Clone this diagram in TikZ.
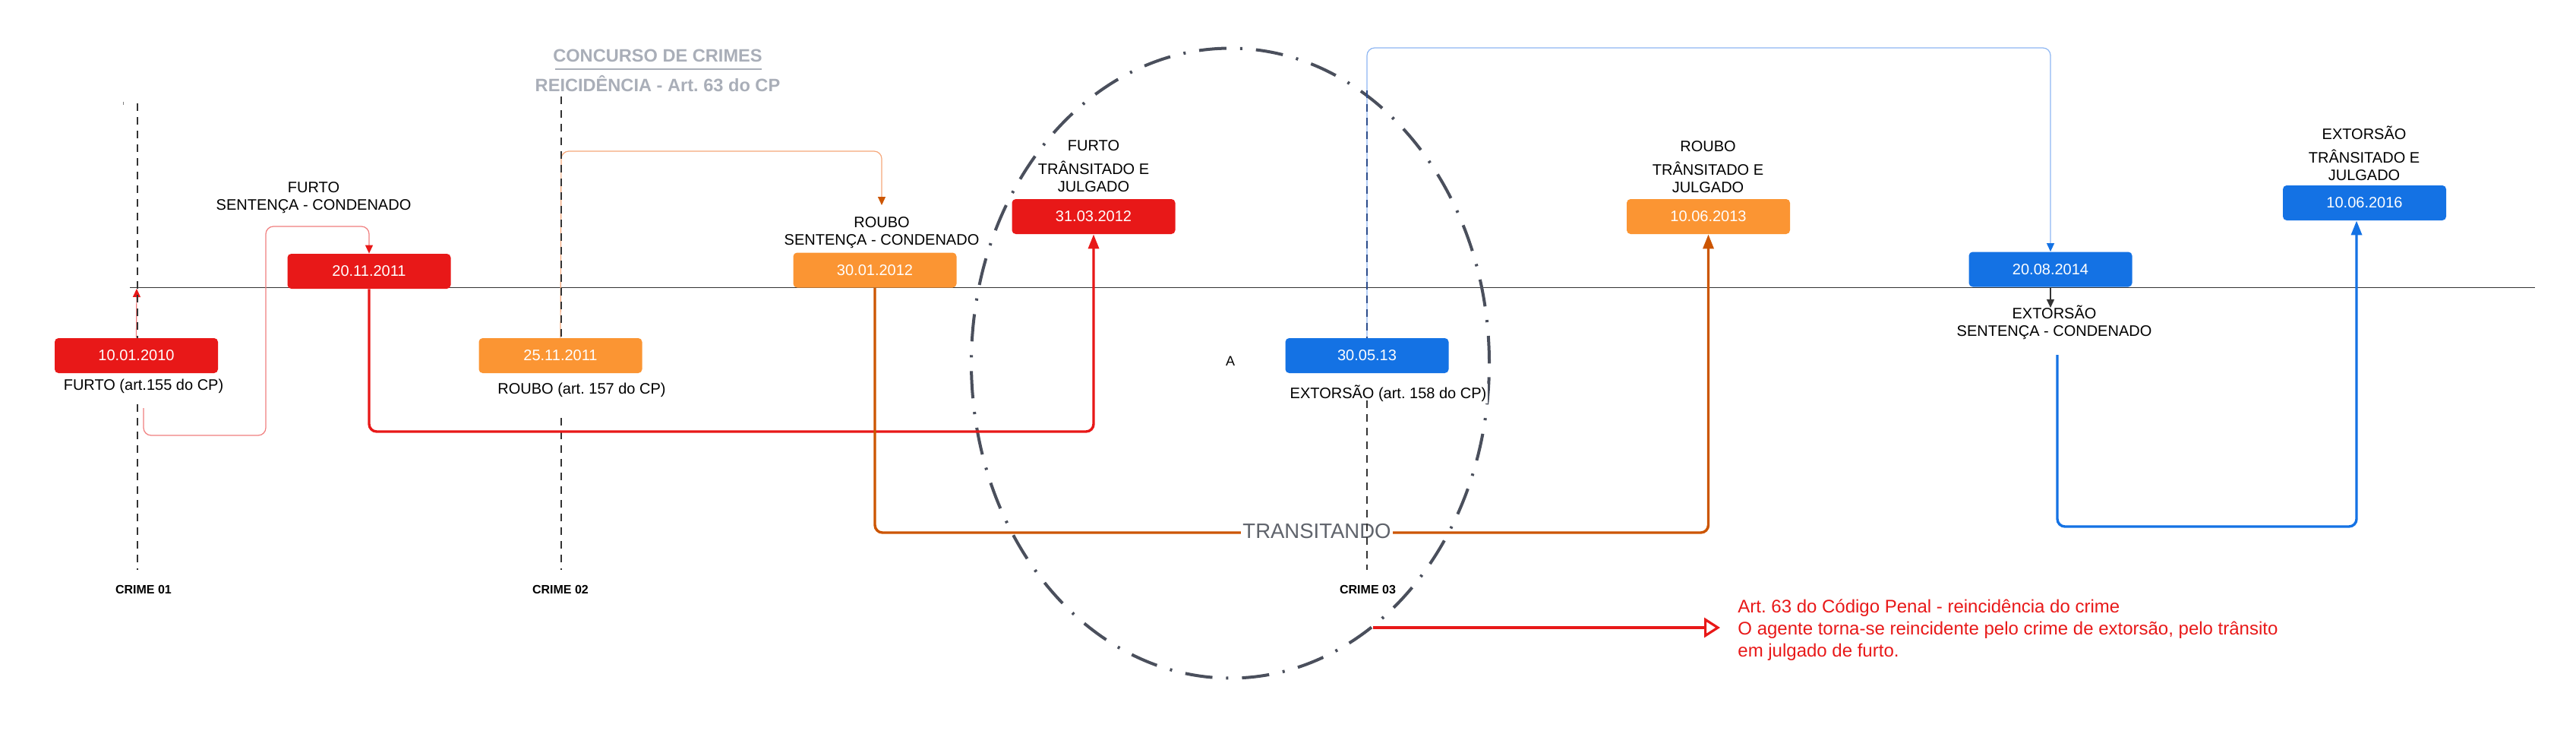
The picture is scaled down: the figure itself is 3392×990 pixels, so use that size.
\documentclass[tikz,border=0pt]{standalone}
\usepackage{fontspec}
\setmainfont{Liberation Sans}
\usetikzlibrary{arrows.meta}
\frenchspacing
\definecolor{cred}{HTML}{E81818}
\definecolor{corange}{HTML}{FB9533}
\definecolor{cblue}{HTML}{1472E4}
\definecolor{cdkorange}{HTML}{CC5500}
\definecolor{cpalered}{HTML}{F07E7E}
\definecolor{cpaleorange}{HTML}{F5A77A}
\definecolor{cpaleblue}{HTML}{8DB6F2}
\definecolor{cgreytitle}{HTML}{A9AEB8}
\definecolor{cellipse}{HTML}{4A4F5C}
\definecolor{cline}{HTML}{333333}
\definecolor{cnavy}{HTML}{2B4C8C}
\definecolor{ctrans}{HTML}{5F636B}
\begin{document}
\begin{tikzpicture}[x=0.5pt,y=-0.5pt,
  datebox/.style={rectangle, rounded corners=2.5pt, minimum width=107.5pt, minimum height=23pt, text=white, font=\fontsize{10}{12}\selectfont, inner sep=0pt},
  lbl/.style={font=\fontsize{10}{11.5}\selectfont, align=center, inner sep=1pt},
  crimelbl/.style={font=\bfseries\fontsize{8}{9}\selectfont},
  titlelbl/.style={font=\bfseries\fontsize{11.8}{13}\selectfont, text=cgreytitle},
  crimeline/.style={cline, line width=0.6pt, dash pattern=on 5pt off 4pt},
  thickconn/.style={line width=1.7pt, rounded corners=5pt},
  thinconn/.style={line width=0.6pt, rounded corners=5pt},
  thintip/.style={-{Triangle[length=5.5pt,width=5pt,color=#1]}},
  thicktip/.style={-{Triangle[length=9.5pt,width=7pt]}},
]
\useasboundingbox (0,0) rectangle (3392,990);

% timeline
\draw[cline, line width=0.5pt] (171,378) -- (3338,378);
\draw[gray, line width=0.5pt] (162,134) -- (162,138);

% ellipse
\draw[cellipse, line width=2pt, dash pattern=on 18pt off 9pt on 1.5pt off 9pt] (1620,478) ellipse [x radius=170.5pt, y radius=207.25pt];

\coordinate (p1) at (189,537);
\coordinate (o4) at (1161,270);
\coordinate (t1) at (180,380);

% date boxes
\node[datebox, fill=cred] (d1) at (179.5,468) {10.01.2010};
\node[datebox, fill=cred] (d2) at (486,357) {20.11.2011};
\node[datebox, fill=corange] (d3) at (738,468) {25.11.2011};
\node[datebox, fill=corange] (d4) at (1152,355.5) {30.01.2012};
\node[datebox, fill=cred] (d5) at (1440,285) {31.03.2012};
\node[datebox, fill=cblue] (d6) at (1800,468) {30.05.13};
\node[datebox, fill=corange] (d7) at (2249.5,285) {10.06.2013};
\node[datebox, fill=cblue] (d8) at (2700,354.5) {20.08.2014};
\node[datebox, fill=cblue] (d9) at (3113.5,267) {10.06.2016};

% labels
\node[lbl, fill=white] (l1) at (189,508) {FURTO (art.155 do CP)};
\node[lbl] (l2) at (413,260) {FURTO\\SENTENÇA - CONDENADO};
\node[lbl, fill=white] (l3) at (766,513) {ROUBO (art. 157 do CP)};
\node[lbl] (l4) at (1161,306) {ROUBO\\SENTENÇA - CONDENADO};
\node[lbl] (l5) at (1440,219) {FURTO\\[4pt]TRÂNSITADO E\\JULGADO};
\node[lbl, fill=white] (l6) at (1828,518) {EXTORSÃO (art. 158 do CP)};
\node[lbl] (l7) at (2249,219.5) {ROUBO\\[4pt]TRÂNSITADO E\\JULGADO};
\node[lbl] (l8) at (2705,424) {EXTORSÃO\\SENTENÇA - CONDENADO};
\node[lbl] (l9) at (3113,201.5) {EXTORSÃO\\[4pt]TRÂNSITADO E\\JULGADO};
\node[font=\fontsize{9}{10}\selectfont] (la) at (1620,475) {A};

% titles
\node[titlelbl] (ti1) at (866,73) {CONCURSO DE CRIMES};
\node[titlelbl] (ti2) at (866,110) {REICIDÊNCIA - Art. 63 do CP};
\draw[cgreytitle, line width=1pt] (731,91) -- (1003,91);

% thin connectors
\draw[thinconn, cpalered, thintip=cred] (d1.north) -- (t1);
\draw[thinconn, cpalered, thintip=cred] (p1) -- (189,573) -- (350,573) -- (350,298) -- (486,298) -- (d2.north);
\draw[thinconn, cpaleorange, thintip=cdkorange] (d3.north) -- (739,199) -- (1161,199) -- (o4);
\draw[thinconn, cpaleblue, thintip=cblue] (d6.north) -- (1800,63) -- (2700,63) -- (d8.north);
\coordinate (e8) at (2700,405);
\draw[cline, line width=0.6pt, -{Triangle[length=5.5pt,width=5pt]}] (d8.south) -- (e8);

% dashed crime lines
\draw[crimeline] (181,136) -- (181,445);
\draw[crimeline] (181,532) -- (181,750);
\draw[crimeline] (739,127) -- (739,445);
\draw[crimeline] (739,550) -- (739,750);
\draw[crimeline, cnavy] (1800,119) -- (1800,445);

% thick connectors
\draw[thickconn, cred, thicktip] (d2.south) -- (486,568) -- (1440,568) -- (d5.south);
\draw[thickconn, cdkorange, thicktip] (d4.south) -- (1152,701) -- (2249.5,701) -- (d7.south);
\coordinate (b0) at (2709,467);
\draw[thickconn, cblue, thicktip] (b0) -- (2709,693) -- (3103,693) -- (d9.south -| 3103,0);

\node[fill=white, inner sep=1pt, text=ctrans, font=\fontsize{13.75}{15}\selectfont] (tr) at (1734,699) {TRANSITANDO};
\draw[crimeline] (1800,527) -- (1800,750);

% crime labels
\node[crimelbl] (c1) at (189,776) {CRIME 01};
\node[crimelbl] (c2) at (738,776) {CRIME 02};
\node[crimelbl] (c3) at (1801,776) {CRIME 03};

% annotation
\coordinate (a0) at (1808,826);
\node[anchor=west, inner xsep=11.5pt, inner ysep=0pt, align=left, text=cred, font=\fontsize{12}{14.5}\selectfont] (ann) at (2265,829)
  {Art. 63 do Código Penal - reincidência do crime\\O agente torna-se reincidente pelo crime de extorsão, pelo trânsito\\em julgado de furto.};
\draw[cred, line width=1.6pt, -{Triangle[open, length=10.5pt, width=13pt, fill=white]}] (a0) -- (ann.west |- a0);
\end{tikzpicture}
\end{document}
